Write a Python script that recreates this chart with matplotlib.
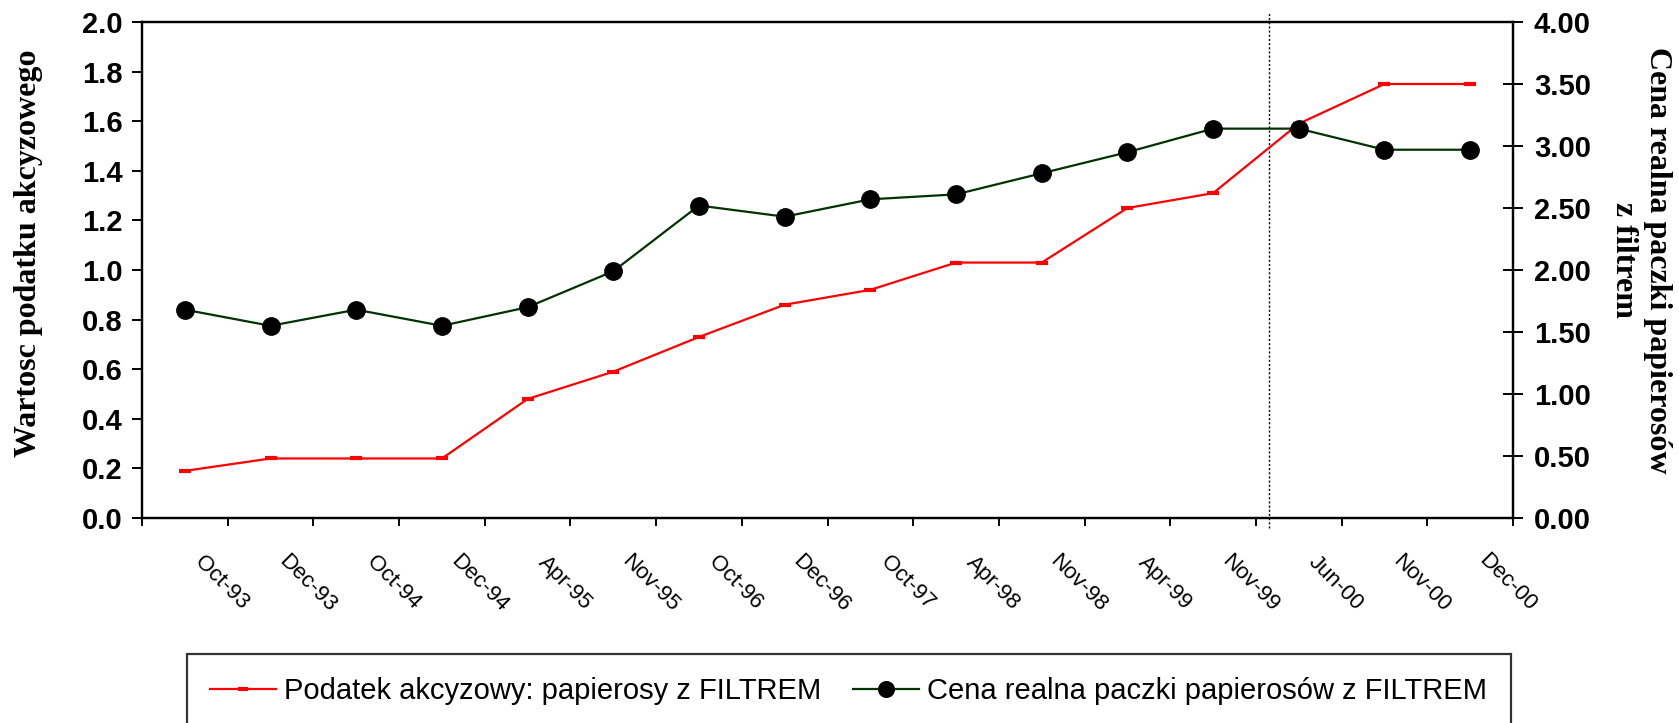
import numpy as np
import matplotlib
matplotlib.use('Agg')
import matplotlib.pyplot as plt
import matplotlib.transforms as mtransforms
from matplotlib.ticker import FixedLocator, FormatStrFormatter

plt.rcParams['font.family'] = ['Liberation Sans', 'DejaVu Sans']

# ---------------------------------------------------------------------------
# Data
# ---------------------------------------------------------------------------
DATES = ['Oct-93', 'Dec-93', 'Oct-94', 'Dec-94', 'Apr-95', 'Nov-95', 'Oct-96', 'Dec-96',
         'Oct-97', 'Apr-98', 'Nov-98', 'Apr-99', 'Nov-99', 'Jun-00', 'Nov-00', 'Dec-00']

# excise tax (left axis)
EXCISE = [0.19, 0.24, 0.24, 0.24, 0.48, 0.59, 0.73, 0.86,
          0.92, 1.03, 1.03, 1.25, 1.31, 1.59, 1.75, 1.75]

# real price of a pack (right axis)
PRICE = [1.68, 1.55, 1.68, 1.55, 1.70, 1.99, 2.52, 2.43,
         2.57, 2.61, 2.78, 2.95, 3.14, 3.14, 2.97, 2.97]

DIVIDER_X = 12.65  # dotted vertical marker between Nov-99 and Jun-00

LEFT_TICKS = np.arange(0, 2.01, 0.2)
RIGHT_TICKS = np.arange(0, 4.01, 0.5)

RED = '#FF0000'
GREEN = '#003300'

# ---------------------------------------------------------------------------
W, H = 1679, 723
fig = plt.figure(figsize=(W / 100, H / 100), dpi=100)
ax = fig.add_axes([142 / W, 1 - 518 / H, 1371 / W, 496 / H])
ax2 = ax.twinx()

x = np.arange(len(DATES))

ax.plot(x, EXCISE, color=RED, lw=1.6, marker='_', ms=8, mew=3, mec=RED,
        label='Podatek akcyzowy: papierosy z FILTREM', zorder=3)
ax2.plot(x, PRICE, color=GREEN, lw=1.6, marker='o', ms=12.5, mfc='black', mec='black',
         label='Cena realna paczki papierosów z FILTREM', zorder=3)

ax.axvline(DIVIDER_X, ymin=-0.02, ymax=1.02, color='black', lw=1.0,
           ls=(0, (1.5, 1.5)), clip_on=False, zorder=2)

# axes limits / ticks
ax.set_xlim(-0.5, len(DATES) - 0.5)
ax.set_ylim(0, 2.0)
ax2.set_ylim(0, 4.0)

ax.set_yticks(LEFT_TICKS)
ax.yaxis.set_major_formatter(FormatStrFormatter('%.1f'))
ax2.set_yticks(RIGHT_TICKS)
ax2.yaxis.set_major_formatter(FormatStrFormatter('%.2f'))

ax.xaxis.set_major_locator(FixedLocator(np.arange(-0.5, len(DATES), 1)))
ax.xaxis.set_major_formatter(plt.NullFormatter())
ax.set_xticks(x, minor=True)
ax.set_xticklabels(DATES, minor=True)

ax.tick_params(axis='y', direction='out', length=7.2, width=1.4, pad=7,
               labelsize=21)
for lab in ax.get_yticklabels():
    lab.set_fontweight('bold')
ax2.tick_params(axis='y', direction='inout', length=14, width=1.4, pad=8,
                labelsize=21)
for lab in ax2.get_yticklabels():
    lab.set_fontweight('bold')

ax.tick_params(axis='x', which='major', direction='out', length=6, width=1.4)
ax.tick_params(axis='x', which='minor', length=0, pad=0, labelsize=16)
offset = mtransforms.ScaledTranslation(37 / 100, -65 / 100, fig.dpi_scale_trans)
for lab in ax.get_xticklabels(minor=True):
    lab.set_rotation(-45)
    lab.set_rotation_mode('anchor')
    lab.set_ha('center')
    lab.set_va('center')
    lab.set_transform(lab.get_transform() + offset)

for a in (ax, ax2):
    for sp in a.spines.values():
        sp.set_linewidth(1.6)

# axis titles
ax.set_ylabel('Wartosc podatku akcyzowego', family='Liberation Serif',
              fontweight='bold', fontsize=23, va='center', ha='center')
ax.yaxis.set_label_coords(-0.083, 0.534)
ax2.set_ylabel('Cena realna paczki papierosów\nz filtrem', family='Liberation Serif',
               fontweight='bold', fontsize=23, rotation=270, linespacing=1.2,
               va='center', ha='center')
ax2.yaxis.set_label_coords(1.093, 0.52)

# legend
h1, l1 = ax.get_legend_handles_labels()
h2, l2 = ax2.get_legend_handles_labels()
leg = fig.legend(h1 + h2, l1 + l2, ncol=2, loc='upper left',
                 bbox_to_anchor=(187 / W, 1 - 654 / H), bbox_transform=fig.transFigure,
                 borderaxespad=0, fontsize=21, frameon=True, fancybox=False,
                 handlelength=2.25, handletextpad=0.28, columnspacing=1.1,
                 borderpad=0.8, markerscale=0.9)
leg.get_frame().set_edgecolor('black')
leg.get_frame().set_linewidth(1.6)

fig.savefig('out.png', dpi=100, facecolor='white')
